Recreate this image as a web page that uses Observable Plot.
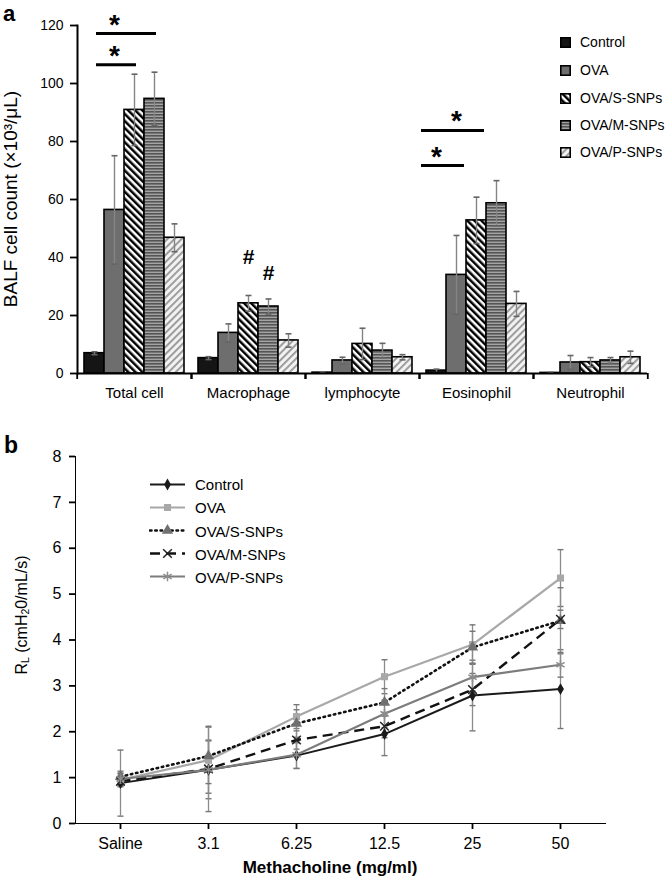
<!DOCTYPE html>
<html>
<head>
<meta charset="utf-8">
<script src="https://cdn.jsdelivr.net/npm/d3@7"></script>
<script src="https://cdn.jsdelivr.net/npm/@observablehq/plot@0.6"></script>
<style>
  html, body { margin: 0; padding: 0; background: #fff; }
  #root { position: relative; width: 670px; height: 881px; font-family: "Liberation Sans", Arial, sans-serif; color: #000; overflow: hidden; }
  .abs { position: absolute; white-space: nowrap; }
  .rot { transform: translate(-50%, -50%) rotate(-90deg); }
  .panel { position: absolute; left: 0; }
  .leg { position: absolute; display: flex; align-items: center; white-space: nowrap; transform: translateY(-50%); }
  .panel g[aria-label="frame"] line { stroke-width: 2px; }
  .panel g[aria-label$="-axis tick"] path { stroke-width: 1.8px; }
</style>
</head>
<body>
<svg width="0" height="0" style="position:absolute">
  <defs>
    <pattern id="patS" patternUnits="userSpaceOnUse" width="5" height="5" patternTransform="rotate(-45)">
      <rect width="5" height="5" fill="#ffffff"></rect>
      <rect width="2.5" height="5" fill="#000000"></rect>
    </pattern>
    <pattern id="patM" patternUnits="userSpaceOnUse" width="6" height="3">
      <rect width="6" height="3" fill="#a4a4a4"></rect>
      <rect width="6" height="1.6" fill="#555555"></rect>
    </pattern>
    <pattern id="patP" patternUnits="userSpaceOnUse" width="5" height="5" patternTransform="rotate(45)">
      <rect width="5" height="5" fill="#f2f2f2"></rect>
      <rect width="1.9" height="5" fill="#9a9a9a"></rect>
    </pattern>
  </defs>
</svg>
<div id="root"></div>
<script>
// ---------- Panel a data ----------
const categories = ["Total cell", "Macrophage", "lymphocyte", "Eosinophil", "Neutrophil"];
const groups = ["Control", "OVA", "OVA/S-SNPs", "OVA/M-SNPs", "OVA/P-SNPs"];
const countControl = [7.0, 5.3, 0.3, 1.0, 0.2];
const countOVA = [56.4, 14.0, 4.5, 34.0, 3.8];
const countS = [90.9, 24.2, 10.2, 52.8, 3.9];
const countM = [94.7, 23.1, 7.9, 58.7, 4.5];
const countP = [46.8, 11.4, 5.6, 24.0, 5.6];
const sdCountControl = [0.5, 0.5, 0.2, 0.5, 0.2];
const sdCountOVA = [18.7, 3.1, 1.1, 13.6, 2.4];
const sdCountS = [12.3, 2.7, 5.4, 8.0, 1.6];
const sdCountM = [9.2, 2.6, 2.5, 7.8, 1.0];
const sdCountP = [4.8, 2.3, 0.9, 4.3, 2.1];
const yTicksA = [0, 20, 40, 60, 80, 100, 120];
const sigCategory = ["Total cell", "Total cell", "Eosinophil", "Eosinophil"];
const sigFrom = ["Control", "Control", "Control", "Control"];
const sigTo = ["OVA/S-SNPs", "OVA/M-SNPs", "OVA", "OVA/S-SNPs"];
const sigStarAt = ["OVA", "OVA", "Control", "OVA"];
const sigLevel = [106.5, 117.2, 71.7, 83.8];
const hashCategory = ["Macrophage", "Macrophage"];
const hashGroup = ["OVA/S-SNPs", "OVA/M-SNPs"];
const hashLevel = [40.1, 34.5];

// ---------- Panel b data ----------
const doses = ["Saline", "3.1", "6.25", "12.5", "25", "50"];
const rlControl = [0.88, 1.17, 1.48, 1.95, 2.79, 2.93];
const rlOVA = [0.95, 1.38, 2.33, 3.20, 3.90, 5.35];
const rlS = [1.02, 1.47, 2.18, 2.64, 3.84, 4.42];
const rlM = [0.92, 1.19, 1.82, 2.12, 2.92, 4.45];
const rlP = [0.97, 1.17, 1.50, 2.39, 3.19, 3.46];
const sdRlControl = [0.72, 0.63, 0.28, 0.47, 0.77, 0.86];
const sdRlOVA = [0.15, 0.72, 0.26, 0.37, 0.43, 0.62];
const sdRlS = [0.12, 0.35, 0.30, 0.30, 0.35, 0.72];
const sdRlM = [0.10, 0.93, 0.20, 0.25, 0.35, 0.20];
const sdRlP = [0.12, 0.30, 0.30, 0.30, 0.30, 0.27];
const yTicksB = [0, 1, 2, 3, 4, 5, 6, 7, 8];

const FONT = '"Liberation Sans", Arial, sans-serif';
const root = document.getElementById("root");

const counts = [countControl, countOVA, countS, countM, countP];
const sdCounts = [sdCountControl, sdCountOVA, sdCountS, sdCountM, sdCountP];
const barFills = {
  "Control": "#151515",
  "OVA": "#6e6e6e",
  "OVA/S-SNPs": "url(#patS)",
  "OVA/M-SNPs": "url(#patM)",
  "OVA/P-SNPs": "url(#patP)"
};
const barData = [];
groups.forEach((g, gi) => categories.forEach((c, ci) => {
  barData.push({category: c, group: g, value: counts[gi][ci], sd: sdCounts[gi][ci]});
}));
const sigData = sigCategory.map((c, i) => ({category: c, from: sigFrom[i], to: sigTo[i], star: sigStarAt[i], level: sigLevel[i]}));
const hashData = hashCategory.map((c, i) => ({category: c, group: hashGroup[i], level: hashLevel[i]}));

const capSymbol = {
  draw(context, size) {
    const r = Math.sqrt(size / Math.PI);
    context.moveTo(-r, 0);
    context.lineTo(r, 0);
  }
};

const WA = 670, MLA = 75, MRA = 22;
const facetStep = (WA - MLA - MRA) / categories.length;

const plotA = Plot.plot({
  width: WA, height: 410,
  marginLeft: MLA, marginRight: MRA, marginTop: 25, marginBottom: 37,
  style: {fontFamily: FONT, fontSize: "14px", color: "#000", background: "transparent", overflow: "visible"},
  fx: {domain: categories, padding: 0, label: null},
  x: {domain: groups, paddingInner: 0, paddingOuter: 0.31, axis: null},
  y: {domain: [0, 120], ticks: yTicksA, tickSize: 7, tickPadding: 7, label: null, line: true},
  color: {type: "identity"},
  marks: [
    Plot.barY(barData, {fx: "category", x: "group", y: "value", fill: d => barFills[d.group], stroke: "#000", strokeWidth: 1.6}),
    Plot.ruleX(barData, {fx: "category", x: "group", y1: d => Math.max(0, d.value - d.sd), y2: d => d.value + d.sd, stroke: "#858585", strokeWidth: 1.4}),
    Plot.dot(barData, {fx: "category", x: "group", y: d => d.value + d.sd, symbol: capSymbol, r: 3, stroke: "#666", strokeWidth: 1.6}),
    Plot.dot(barData, {fx: "category", x: "group", y: d => d.value - d.sd, symbol: capSymbol, r: 3, stroke: "#666", strokeWidth: 1.6, filter: d => d.value - d.sd > 1}),
    Plot.ruleY([0], {stroke: "#000", strokeWidth: 2}),
    Plot.ruleY(sigData.filter(d => d.category === "Total cell"), {fx: "category", x1: "from", x2: "to", y: "level", stroke: "#000", strokeWidth: 3, insetLeft: 12, insetRight: 8}),
    Plot.ruleY(sigData.filter(d => d.category === "Eosinophil"), {fx: "category", x1: "from", x2: "to", y: "level", stroke: "#000", strokeWidth: 3, insetLeft: -5, insetRight: 2}),
    Plot.text(sigData, {fx: "category", x: "star", y: "level", text: () => "*", fontSize: 28, fontWeight: "bold", dy: -9}),
    Plot.text(hashData, {fx: "category", x: "group", y: "level", text: () => "#", fontSize: 21, fontWeight: "bold"}),
    Plot.axisFx({anchor: "bottom", tickSize: 0, tickPadding: 14, fontSize: 15, label: null}),
    Plot.axisFx({anchor: "bottom", tickSize: 6, tickFormat: () => "", dx: -facetStep / 2, label: null, strokeWidth: 2}),
    Plot.axisFx(categories.slice(-1), {anchor: "bottom", tickSize: 6, tickFormat: () => "", dx: facetStep / 2, label: null, strokeWidth: 2})
  ]
});
plotA.classList.add("panel");
plotA.style.top = "0px";
root.appendChild(plotA);

// ---------- Panel b ----------
const rlSeries = [
  {name: "Control", values: rlControl, sds: sdRlControl, stroke: "#1a1a1a", width: 2, dash: null, symbol: "diamond", r: 3.6, fill: "#1a1a1a", mstroke: "none"},
  {name: "OVA", values: rlOVA, sds: sdRlOVA, stroke: "#a8a8a8", width: 2.2, dash: null, symbol: "square", r: 4, fill: "#a8a8a8", mstroke: "none"},
  {name: "OVA/S-SNPs", values: rlS, sds: sdRlS, stroke: "#111", width: 2.6, dash: "1.5,3.8", symbol: "triangle", r: 4.2, fill: "#707070", mstroke: "none"},
  {name: "OVA/M-SNPs", values: rlM, sds: sdRlM, stroke: "#111", width: 2.4, dash: "10,6", symbol: "times", r: 4, fill: "none", mstroke: "#222"},
  {name: "OVA/P-SNPs", values: rlP, sds: sdRlP, stroke: "#7c7c7c", width: 2.2, dash: null, symbol: "asterisk", r: 4.5, fill: "none", mstroke: "#8c8c8c"}
];
const rlData = rlSeries.map(s => doses.map((d, j) => ({series: s.name, dose: d, value: s.values[j], sd: s.sds[j]})));

const errMarks = rlData.flatMap(data => [
  Plot.ruleX(data, {x: "dose", y1: d => d.value - d.sd, y2: d => d.value + d.sd, stroke: "#8c8c8c", strokeWidth: 1.3}),
  Plot.dot(data, {x: "dose", y: d => d.value + d.sd, symbol: capSymbol, r: 3, stroke: "#777", strokeWidth: 1.4}),
  Plot.dot(data, {x: "dose", y: d => d.value - d.sd, symbol: capSymbol, r: 3, stroke: "#777", strokeWidth: 1.4})
]);
const lineMarks = rlSeries.map((s, i) => Plot.line(rlData[i], {x: "dose", y: "value", stroke: s.stroke, strokeWidth: s.width, strokeDasharray: s.dash, strokeLinecap: s.dash && s.dash.startsWith("1.5") ? "round" : "butt"}));
const dotMarks = rlSeries.map((s, i) => Plot.dot(rlData[i], {x: "dose", y: "value", symbol: s.symbol, r: s.r, fill: s.fill, stroke: s.mstroke, strokeWidth: 1.5}));

const plotB = Plot.plot({
  width: 670, height: 471,
  marginLeft: 75, marginRight: 65, marginTop: 46, marginBottom: 58,
  style: {fontFamily: FONT, fontSize: "16px", color: "#000", background: "transparent", overflow: "visible"},
  x: {type: "point", domain: doses, padding: 0.5, tickSize: 6, tickPadding: 8, label: null, line: true},
  y: {domain: [0, 8], ticks: yTicksB, tickSize: 6, tickPadding: 8, label: null, line: true},
  marks: [
    ...errMarks,
    ...lineMarks,
    ...dotMarks
  ]
});
plotB.classList.add("panel");
plotB.style.top = "410px";
root.appendChild(plotB);

// ---------- Text overlays ----------
function addDiv(html, css, cls) {
  const el = document.createElement("div");
  el.className = cls || "abs";
  el.innerHTML = html;
  Object.assign(el.style, css);
  root.appendChild(el);
  return el;
}
addDiv("a", {left: "3px", top: "1px", fontSize: "22px", fontWeight: "bold"});
addDiv("b", {left: "4px", top: "432px", fontSize: "23px", fontWeight: "bold"});
addDiv("BALF cell count (×10³/μL)", {left: "11px", top: "199px", fontSize: "19px"}, "abs rot");
addDiv('R<sub style="font-size:0.65em;vertical-align:-0.25em">L</sub> (cmH<sub style="font-size:0.65em;vertical-align:-0.25em">2</sub>0/mL/s)', {left: "22px", top: "615px", fontSize: "16px"}, "abs rot");
addDiv("Methacholine (mg/ml)", {left: "330px", top: "868px", fontSize: "17px", fontWeight: "bold", transform: "translate(-50%, -50%)"});

const legAY = [42, 70, 98, 125, 152];
groups.forEach((g, i) => {
  addDiv(
    `<svg width="11" height="11" style="margin-right:9px"><rect x="0.8" y="0.8" width="9.4" height="9.4" fill="${barFills[g]}" stroke="#000" stroke-width="1.6"></rect></svg><span>${g}</span>`,
    {left: "560px", top: legAY[i] + "px", fontSize: "14px"}, "leg");
});

const legBY = [484, 507.3, 530.7, 553.7, 576.7];
rlSeries.forEach((s, i) => {
  const sym = {diamond: d3.symbolDiamond, square: d3.symbolSquare, triangle: d3.symbolTriangle, times: d3.symbolTimes, asterisk: d3.symbolAsterisk}[s.symbol];
  const path = d3.symbol(sym, Math.PI * s.r * s.r)();
  const dash = s.dash ? `stroke-dasharray="${s.dash}"` : "";
  const cap = s.dash && s.dash.startsWith("1.5") ? 'stroke-linecap="round"' : "";
  addDiv(
    `<svg width="38" height="14" style="margin-right:8px"><line x1="1" x2="36" y1="7" y2="7" stroke="${s.stroke}" stroke-width="${s.width}" ${dash} ${cap}></line><path transform="translate(18.5,7)" d="${path}" fill="${s.fill}" stroke="${s.mstroke}" stroke-width="1.5"></path></svg><span>${s.name}</span>`,
    {left: "149px", top: legBY[i] + "px", fontSize: "15px"}, "leg");
});
</script>
</body>
</html>
